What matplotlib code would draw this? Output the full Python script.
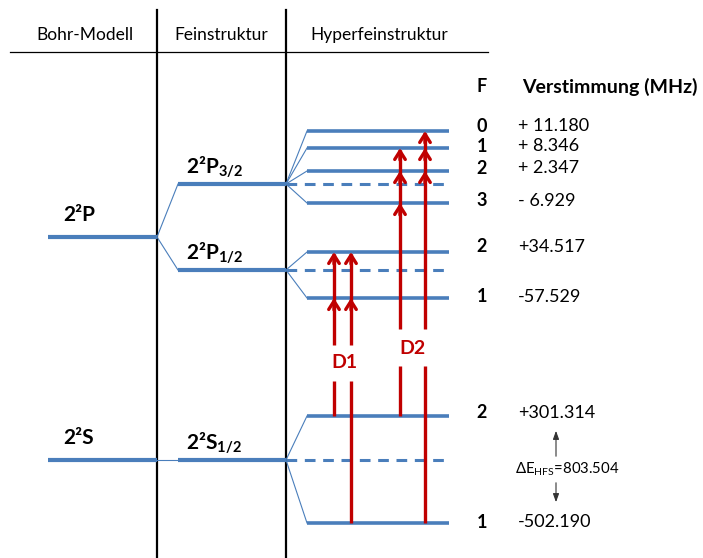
import matplotlib.pyplot as plt

plt.rcParams['font.family'] = ['Lato', 'DejaVu Sans']
plt.rcParams['mathtext.fontset'] = 'custom'
plt.rcParams['mathtext.rm'] = 'Lato'
plt.rcParams['mathtext.bf'] = 'Lato:bold'

BLUE = '#4a7ebb'
RED = '#c00000'

# column headers
headers = ['Bohr-Modell', 'Feinstruktur', 'Hyperfeinstruktur']
header_x = [85, 221, 379]

# Bohr levels (diagram y units, top = 0)
bohr_names = ['2²P', '2²S']
bohr_y = [237, 460]

# fine structure levels and which Bohr level they come from
fine_names = [r'2²P$\mathbf{_{3/2}}$', r'2²P$\mathbf{_{1/2}}$', r'2²S$\mathbf{_{1/2}}$']
fine_y = [184, 270, 460]
fine_parent = [0, 0, 1]

# hyperfine sublevels per fine level
hfs_y = [[131, 148, 171, 203], [252, 298], [416, 523]]
hfs_F = ['0', '1', '2', '3', '2', '1', '2', '1']
hfs_shift = ['+ 11.180', '+ 8.346', '+ 2.347', '- 6.929',
             '+34.517', '-57.529', '+301.314', '-502.190']
label_y = [126, 146, 168, 201, 247, 297, 413, 522]

# D1/D2 transitions: x position, lower level, levels with arrow heads
trans_x = [334, 351, 400, 425]
trans_lo = [416, 523, 416, 523]
trans_heads = [[298, 252], [298, 252], [203, 171, 148], [171, 148, 131]]
trans_gap = [(345, 381), (345, 381), (329, 366), (329, 366)]
line_names = ['D1', 'D2']
line_label_pos = [(344, 363), (412, 349)]

fig = plt.figure(figsize=(7.03, 5.58), dpi=100)
ax = fig.add_axes([0, 0, 1, 1])
ax.set_xlim(0, 703)
ax.set_ylim(558, 0)
ax.axis('off')

# table frame
ax.plot([10, 488], [52, 52], color='black', lw=0.9)
for xv in [157, 286]:
    ax.plot([xv, xv], [10, 558], color='black', lw=1.6)
for name, xh in zip(headers, header_x):
    ax.text(xh, 35, name, ha='center', va='center', fontsize=12.5)

# Bohr levels
for name, y in zip(bohr_names, bohr_y):
    ax.plot([48, 157], [y, y], color=BLUE, lw=3, solid_capstyle='butt')
    ax.text(63, y - 22, name, ha='left', va='center', fontsize=15, fontweight='bold')

# fine structure levels
for name, y, p in zip(fine_names, fine_y, fine_parent):
    ax.plot([157, 178], [bohr_y[p], y], color=BLUE, lw=0.8)
    ax.plot([178, 286], [y, y], color=BLUE, lw=3, solid_capstyle='butt')
    ax.text(186, y - 17, name, ha='left', va='center', fontsize=15, fontweight='bold')

# hyperfine levels
for fy, group in zip(fine_y, hfs_y):
    ax.plot([286, 449], [fy, fy], color=BLUE, lw=2.2, ls=(0, (3.5, 2.5)))
    for y in group:
        ax.plot([286, 307], [fy, y], color=BLUE, lw=0.8)
        ax.plot([307, 449], [y, y], color=BLUE, lw=2.6, solid_capstyle='butt')

# right hand table
ax.text(482, 87, 'F', ha='center', va='center', fontsize=13, fontweight='bold')
ax.text(522, 87, 'Verstimmung (MHz)', ha='left', va='center', fontsize=14, fontweight='bold')
for f, s, y in zip(hfs_F, hfs_shift, label_y):
    ax.text(482, y, f, ha='center', va='center', fontsize=13, fontweight='bold')
    ax.text(518, y, s, ha='left', va='center', fontsize=13)

# hyperfine splitting of the ground state
ax.annotate('', xy=(556, 428), xytext=(556, 459),
            arrowprops=dict(arrowstyle='-|>,head_length=0.5,head_width=0.18', color='#333333', lw=0.8))
ax.annotate('', xy=(556, 505), xytext=(556, 480),
            arrowprops=dict(arrowstyle='-|>,head_length=0.5,head_width=0.18', color='#333333', lw=0.8))
ax.text(567, 469, r'ΔE$_{\mathrm{HFS}}$=803.504', ha='center', va='center', fontsize=10.7)

# D1 / D2 transitions
for xt, lo, heads, gap in zip(trans_x, trans_lo, trans_heads, trans_gap):
    top = min(heads)
    ax.plot([xt, xt], [lo, gap[1]], color=RED, lw=2.4, solid_capstyle='butt')
    ax.plot([xt, xt], [gap[0], top + 2], color=RED, lw=2.4, solid_capstyle='butt')
    for yh in heads:
        ax.annotate('', xy=(xt, yh), xytext=(xt, yh + 12),
                    arrowprops=dict(arrowstyle='->,head_length=0.6,head_width=0.38',
                                    color=RED, lw=2.4, shrinkA=0, shrinkB=0))
for name, (xl, yl) in zip(line_names, line_label_pos):
    ax.text(xl, yl, name, ha='center', va='center', fontsize=14,
            fontweight='bold', color=RED)

fig.savefig('out.png', dpi=100)
